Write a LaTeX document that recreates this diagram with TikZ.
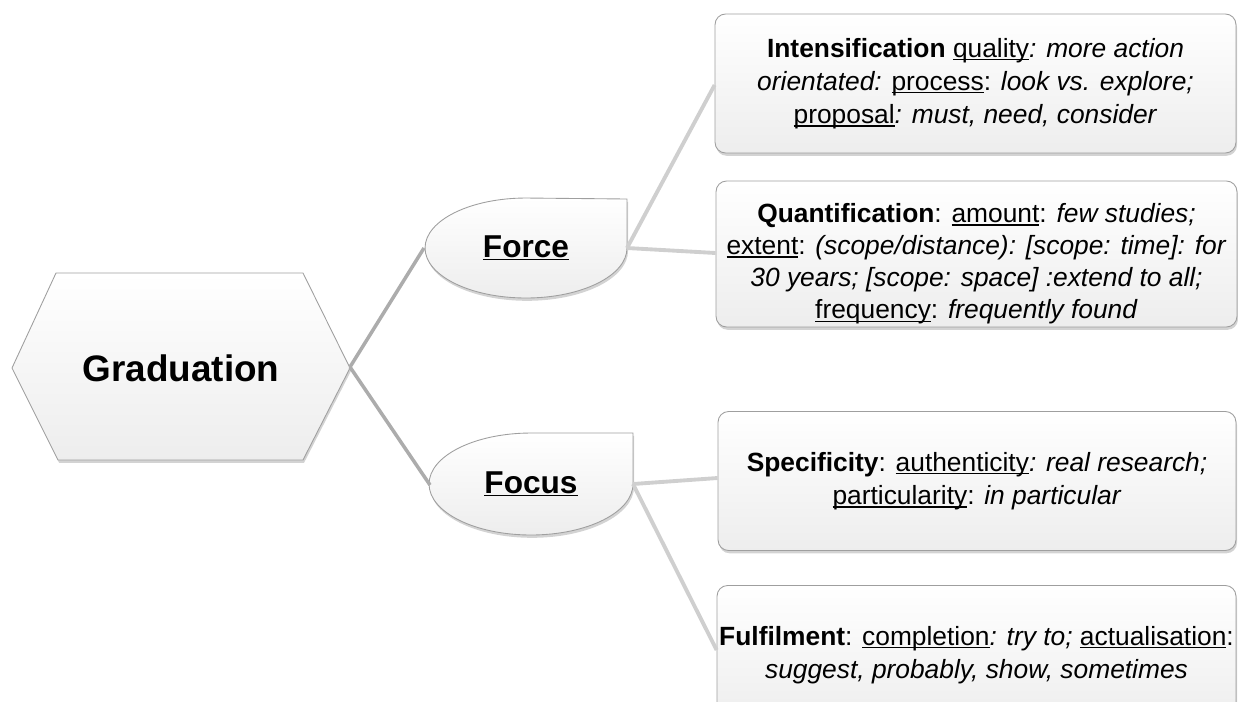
\documentclass[tikz,border=0pt]{standalone}
\usepackage{fontspec}
\setmainfont{Liberation Sans}
\usepackage{tikz}
\usetikzlibrary{positioning,calc,shadows}

% underline close to the baseline
\newcommand{\ulnk}[1]{\begingroup\setbox0\hbox{#1}\rlap{\rule[-1.8pt]{\wd0}{0.75pt}}\box0\endgroup}

\tikzset{
  panel/.style={draw=gray!75,line width=0.5pt,top color=white,bottom color=gray!14,
    drop shadow={opacity=0.35,shadow xshift=0.6pt,shadow yshift=-1.6pt}},
  infobox/.style={panel,rounded corners=6pt,minimum width=10.42cm,minimum height=2.78cm,
    align=center,inner sep=1pt,font=\fontsize{15}{18.8}\selectfont},
  linkA/.style={draw=gray!65,line width=2pt},
  linkB/.style={draw=gray!38,line width=2.2pt}
}

\begin{document}
\begin{tikzpicture}[x=0.02cm,y=-0.02cm]

  \clip (0,0) rectangle (1238,701);

  % root hexagon
  \path[panel] (12,368) -- (56,273) -- (303,273) -- (350,368) -- (303,460) -- (58,460) -- cycle;
  \node[font=\fontsize{21}{25}\selectfont\bfseries] (grad) at (181,368) {Graduation};
  \coordinate (grad-e) at (350,367);

  % leaf shaped branches
  \path[panel] (627,199) -- (627,248) arc[start angle=0,end angle=-270,x radius=2.02cm,y radius=1cm] -- cycle;
  \node[font=\fontsize{18}{22}\selectfont\bfseries] (force) at (526,248) {\ulnk{Force}};
  \coordinate (force-w) at (424,248);
  \coordinate (force-e) at (627,248);

  \path[panel] (633,433) -- (633,484) arc[start angle=0,end angle=-270,x radius=2.04cm,y radius=1.02cm] -- cycle;
  \node[font=\fontsize{18}{22}\selectfont\bfseries] (focus) at (531,484) {\ulnk{Focus}};
  \coordinate (focus-w) at (430,485);
  \coordinate (focus-e) at (633,484);

  % text boxes
  \node[infobox] (intens) at (975.5,83.5) {\textbf{Intensification} \ulnk{quality}\textit{: more action}\\
    \textit{orientated:} \ulnk{process}: \textit{look vs. explore;}\\
    \ulnk{proposal}\textit{: must, need, consider}};
  \node[infobox,minimum height=2.92cm,font=\fontsize{15}{18.3}\selectfont] (quant) at (976.5,254) {\rule{0pt}{22pt}\textbf{Quantification}: \ulnk{amount}: \textit{few studies;}\\
    \ulnk{extent}: \textit{(scope/distance): [scope: time]: for}\\
    \textit{30 years; [scope: space] :extend to all;}\\
    \ulnk{frequency}: \textit{frequently found}};
  \node[infobox,minimum width=10.36cm] (spec) at (977,481) {\textbf{Specificity}: \ulnk{authenticity}\textit{: real research;}\\
    \ulnk{particularity}: \textit{in particular}};
  \node[infobox,minimum width=10.38cm] (fulfil) at (976.5,655) {\textbf{Fulfilment}: \ulnk{completion}\textit{: try to;} \ulnk{actualisation}:\\
    \textit{suggest, probably, show, sometimes}};

  % connectors
  \draw[linkA] (grad-e) -- (force-w);
  \draw[linkA] (grad-e) -- (focus-w);
  \draw[linkB] (force-e) -- (intens.west |- 0,85);
  \draw[linkB] (force-e) -- (quant.west |- 0,253);
  \draw[linkB] (focus-e) -- (spec.west |- 0,478);
  \draw[linkB] (focus-e) -- (fulfil.west |- 0,650);

\end{tikzpicture}
\end{document}
